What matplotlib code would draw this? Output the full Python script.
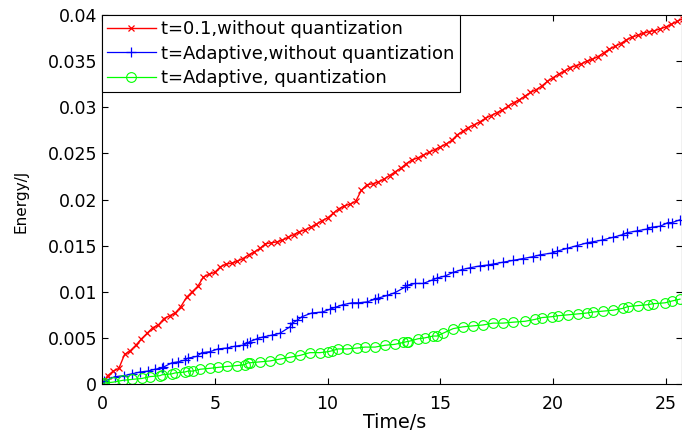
import numpy as np
import matplotlib
matplotlib.use("Agg")
import matplotlib.pyplot as plt

plt.rcParams['font.family'] = ['DejaVu Sans']

# t=0.1, without quantization (sampled every 0.25 s)
red_t = np.arange(0, 26, 0.25)
red_e = [
    0.0000, 0.0009, 0.0014, 0.0017,
    0.0032, 0.0036, 0.0042, 0.0049,
    0.0055, 0.0061, 0.0064, 0.0071,
    0.0074, 0.0077, 0.0084, 0.0094,
    0.0100, 0.0106, 0.0116, 0.0119,
    0.0121, 0.0127, 0.0130, 0.0131,
    0.0133, 0.0136, 0.0140, 0.0143,
    0.0147, 0.0152, 0.0153, 0.0154,
    0.0156, 0.0159, 0.0162, 0.0165,
    0.0167, 0.0170, 0.0173, 0.0177,
    0.0180, 0.0185, 0.0190, 0.0193,
    0.0195, 0.0198, 0.0210, 0.0216,
    0.0217, 0.0219, 0.0222, 0.0226,
    0.0230, 0.0234, 0.0239, 0.0243,
    0.0245, 0.0248, 0.0251, 0.0254,
    0.0257, 0.0260, 0.0264, 0.0270,
    0.0274, 0.0278, 0.0281, 0.0284,
    0.0288, 0.0291, 0.0294, 0.0297,
    0.0301, 0.0305, 0.0308, 0.0312,
    0.0316, 0.0319, 0.0323, 0.0328,
    0.0332, 0.0336, 0.0339, 0.0343,
    0.0345, 0.0347, 0.0350, 0.0352,
    0.0355, 0.0359, 0.0363, 0.0366,
    0.0369, 0.0373, 0.0376, 0.0378,
    0.0380, 0.0382, 0.0383, 0.0385,
    0.0387, 0.0390, 0.0393, 0.0396,
]

# t=Adaptive, without quantization
blue_t = [0, 0.09, 0.58, 0.98, 1.32, 1.69, 2.05, 2.35, 2.66, 2.70,
          3.10, 3.37, 3.68, 3.81, 4.21, 4.43, 4.79, 5.14, 5.54, 5.90,
          6.25, 6.43, 6.56, 6.87, 7.14, 7.54, 7.89, 8.34, 8.43, 8.65,
          8.87, 9.31, 9.76, 10.11, 10.33, 10.69, 11.09, 11.35, 11.75, 12.11,
          12.24, 12.64, 12.99, 13.44, 13.53, 13.88, 14.24, 14.68, 14.86, 15.21,
          15.57, 15.96, 16.32, 16.76, 17.12, 17.34, 17.78, 18.23, 18.67, 19.11,
          19.42, 19.96, 20.18, 20.62, 21.06, 21.51, 21.73, 22.17, 22.66, 23.10,
          23.28, 23.73, 24.17, 24.39, 24.75, 25.10, 25.28, 25.63]
blue_e = [0, 0.0003, 0.0008, 0.0009, 0.0011, 0.0013, 0.0014, 0.0016, 0.0017, 0.0018,
          0.0023, 0.0024, 0.0026, 0.0028, 0.0030, 0.0034, 0.0035, 0.0038, 0.0039, 0.0041,
          0.0042, 0.0044, 0.0046, 0.0049, 0.0051, 0.0053, 0.0055, 0.0062, 0.0066, 0.0069,
          0.0073, 0.0077, 0.0078, 0.0081, 0.0083, 0.0086, 0.0088, 0.0088, 0.0089, 0.0092,
          0.0093, 0.0096, 0.0099, 0.0105, 0.0107, 0.0109, 0.0109, 0.0113, 0.0115, 0.0117,
          0.0121, 0.0124, 0.0126, 0.0128, 0.0129, 0.0130, 0.0132, 0.0134, 0.0136, 0.0138,
          0.0140, 0.0142, 0.0144, 0.0147, 0.0150, 0.0153, 0.0154, 0.0156, 0.0159, 0.0162,
          0.0164, 0.0166, 0.0168, 0.0170, 0.0171, 0.0175, 0.0175, 0.0178]

# t=Adaptive, quantization
green_t = [0, 0.09, 0.49, 0.93, 1.33, 1.77, 2.13, 2.57, 2.66, 3.10,
           3.24, 3.68, 3.81, 4.04, 4.35, 4.79, 5.14, 5.54, 5.99, 6.34,
           6.47, 6.56, 7.01, 7.45, 7.89, 8.34, 8.78, 9.22, 9.67, 10.02,
           10.20, 10.47, 10.86, 11.31, 11.66, 12.11, 12.55, 12.99, 13.35, 13.53,
           13.57, 14.01, 14.32, 14.68, 14.86, 15.12, 15.57, 16.01, 16.45, 16.90,
           17.34, 17.78, 18.23, 18.76, 19.20, 19.51, 19.96, 20.22, 20.67, 21.11,
           21.51, 21.77, 22.22, 22.66, 23.10, 23.33, 23.77, 24.21, 24.43, 24.97,
           25.28, 25.63]
green_e = [0, 0.0001, 0.0002, 0.0004, 0.0005, 0.0006, 0.0008, 0.0009, 0.0010, 0.0011,
           0.0012, 0.0013, 0.0014, 0.0014, 0.0016, 0.0017, 0.0018, 0.0019, 0.0020, 0.0021,
           0.0023, 0.0023, 0.0024, 0.0025, 0.0027, 0.0029, 0.0031, 0.0034, 0.0034, 0.0035,
           0.0036, 0.0038, 0.0038, 0.0039, 0.0040, 0.0040, 0.0042, 0.0043, 0.0045, 0.0046,
           0.0046, 0.0049, 0.0050, 0.0052, 0.0052, 0.0055, 0.0060, 0.0062, 0.0063, 0.0064,
           0.0066, 0.0066, 0.0067, 0.0068, 0.0070, 0.0072, 0.0073, 0.0074, 0.0075, 0.0076,
           0.0077, 0.0078, 0.0079, 0.0080, 0.0082, 0.0084, 0.0085, 0.0086, 0.0087, 0.0088,
           0.0090, 0.0092]

labels = ["t=0.1,without quantization",
          "t=Adaptive,without quantization",
          "t=Adaptive, quantization"]
x_ticks = [0, 5, 10, 15, 20, 25]
y_ticks = [0, 0.005, 0.01, 0.015, 0.02, 0.025, 0.03, 0.035, 0.04]
y_tick_labels = ["0", "0.005", "0.01", "0.015", "0.02", "0.025", "0.03", "0.035", "0.04"]

fig = plt.figure(figsize=(6.82, 4.32), dpi=100)
ax = fig.add_axes([102 / 682, 48 / 432, 580 / 682, 369 / 432])

ax.plot(red_t, red_e, color=(1, 0, 0), lw=1.0, marker="x", ms=4.5, mew=0.9, label=labels[0])
ax.plot(blue_t, blue_e, color=(0, 0, 1), lw=0.9, marker="+", ms=6.5, mew=0.9, label=labels[1])
ax.plot(green_t, green_e, color=(0, 1, 0), lw=0.9, marker="o", ms=7, mew=0.8,
        mfc="none", label=labels[2])

ax.set_xlim(0, 25.72)
ax.set_ylim(0, 0.04)
ax.set_xticks(x_ticks)
ax.set_yticks(y_ticks)
ax.set_yticklabels(y_tick_labels)
ax.tick_params(direction="in", top=True, right=True, length=4, width=0.8,
               labelsize=12.5)
ax.tick_params(axis="x", pad=8)
ax.tick_params(axis="y", pad=3.6)
for s in ax.spines.values():
    s.set_linewidth(0.8)

ax.set_xlabel("Time/s", fontsize=13.8)
ax.xaxis.set_label_coords(0.505, -29 / 369)
ax.set_ylabel("Energy/J", fontsize=11)
ax.yaxis.set_label_coords(-74 / 580, 0.495)

leg = ax.legend(loc="upper left", bbox_to_anchor=(0, 1), borderaxespad=0,
                prop={"size": 13}, numpoints=1, handlelength=2.7, handletextpad=0.3,
                labelspacing=0.365, fancybox=False, framealpha=1, edgecolor="black",
                borderpad=0.28)
leg.get_frame().set_linewidth(0.8)

fig.savefig("out.png", dpi=100)
